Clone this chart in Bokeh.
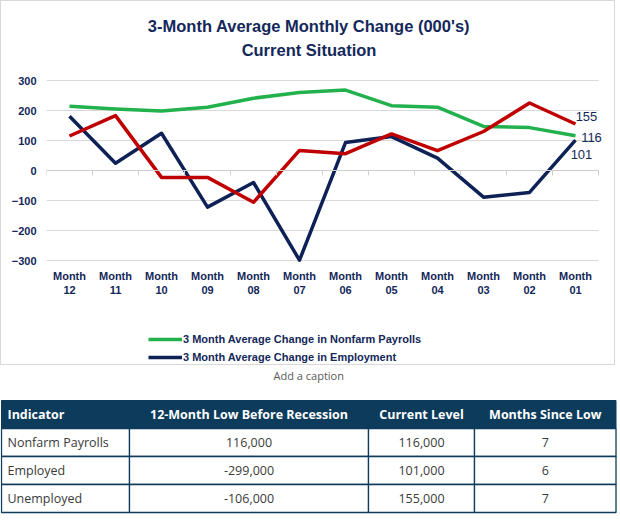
from bokeh.plotting import figure
from bokeh.models import (Range1d, FixedTicker, LinearAxis, Legend, LegendItem, Label,
                          ColumnDataSource, LabelSet)
from bokeh.embed import file_html
from bokeh.resources import INLINE
from bokeh.core.properties import value

# ---------------- data ----------------
months = ["12", "11", "10", "09", "08", "07", "06", "05", "04", "03", "02", "01"]
payrolls = [214, 205, 198, 211, 241, 260, 268, 216, 211, 147, 143, 116]
employment = [181, 24, 124, -122, -40, -299, 93, 113, 41, -89, -73, 101]
unemployed = [115, 183, -23, -23, -106, 67, 56, 122, 66, 130, 225, 155]
y_ticks = [-300, -200, -100, 0, 100, 200, 300]
title_line1 = "3-Month Average Monthly Change (000's)"
title_line2 = "Current Situation"
legend_labels = ["3 Month Average Change in Nonfarm Payrolls",
                 "3 Month Average Change in Employment"]
caption_text = "Add a caption"

table_header = ["Indicator", "12-Month Low Before Recession", "Current Level", "Months Since Low"]
indicators = ["Nonfarm Payrolls", "Employed", "Unemployed"]
low_before = [116000, -299000, -106000]
current_level = [116000, 101000, 155000]
months_since_low = [7, 6, 7]

# ---------------- styles / layout ----------------
NAVY = "#14285a"
GREEN = "#22b14c"
DARKBLUE = "#0d2157"
RED = "#c00000"
GRID = "#d9d9d9"
HEADER = "#0c3b5c"
FONT = "Liberation Sans"
TFONT = "Open Sans"

W, H = 615, 365                # chart box (inside its 1px border)
LEFT, RIGHT = 45, 3            # room for y labels / right margin
PLOT_TOP, PLOT_H = 79, 180     # pixel rows of the 300 .. -300 band
y_min, y_max = min(y_ticks), max(y_ticks)
upp = (y_max - y_min) / PLOT_H                 # data units per pixel
y_hi = y_max + PLOT_TOP * upp
y_lo = y_min - (H - PLOT_TOP - PLOT_H) * upp

n = len(months)
xpos = [i + 0.5 for i in range(n)]             # category centres on a 0..n slot scale
tick_labels = {x: f"Month\n{m}" for x, m in zip(xpos, months)}
slot_px = 46
x_end = (W - LEFT - RIGHT) / slot_px

p = figure(x_range=Range1d(0, x_end), y_range=Range1d(y_lo, y_hi), width=W, height=H,
           output_backend="svg", toolbar_location=None, x_axis_location=None,
           min_border_left=LEFT, min_border_right=RIGHT, min_border_top=0, min_border_bottom=0,
           styles={"border": "1px solid #d9d9d9"})
p.outline_line_color = None
p.background_fill_color = "white"
p.border_fill_color = "white"

def px_to_y(py):
    return y_hi - py * upp

chart_cx = (W / 2 - LEFT) / slot_px

# titles
for txt, py in [(title_line1, 24), (title_line2, 48)]:
    p.add_layout(Label(x=chart_cx, y=px_to_y(py), text=txt, text_align="center",
                       text_baseline="middle", text_font=FONT, text_font_size="16.5px",
                       text_font_style="bold", text_color=NAVY))

# y axis
p.yaxis.ticker = FixedTicker(ticks=y_ticks)
p.yaxis.axis_line_color = None
p.yaxis.major_tick_line_color = None
p.yaxis.major_tick_out = 0
p.yaxis.minor_tick_line_color = None
p.yaxis.major_label_standoff = 10
p.yaxis.major_label_text_font = FONT
p.yaxis.major_label_text_font_size = "11px"
p.yaxis.major_label_text_font_style = "bold"
p.yaxis.major_label_text_color = NAVY
p.xgrid.grid_line_color = None
p.ygrid.grid_line_color = None

# horizontal gridlines across the category slots only
p.segment(x0=[0] * len(y_ticks), x1=[n] * len(y_ticks), y0=y_ticks, y1=y_ticks,
          line_color=GRID, line_width=1)

# category labels under the lowest gridline
cat_axis = LinearAxis(fixed_location=y_min, ticker=FixedTicker(ticks=xpos),
                      major_label_overrides=tick_labels,
                      axis_line_color=None, major_tick_line_color=None, major_tick_out=0,
                      minor_tick_line_color=None, major_label_standoff=9,
                      major_label_text_font=FONT, major_label_text_font_size="11px",
                      major_label_text_font_style="bold", major_label_text_color=NAVY)
p.add_layout(cat_axis, "below")

# zero axis line with tick marks between categories
zero_axis = LinearAxis(fixed_location=0, bounds=(0, n),
                       ticker=FixedTicker(ticks=list(range(n + 1))),
                       axis_line_color="#cfcfcf", major_tick_line_color="#cfcfcf",
                       major_tick_out=5, major_tick_in=0, minor_tick_line_color=None,
                       major_label_text_color=None)
p.add_layout(zero_axis, "below")

src = ColumnDataSource(dict(x=xpos, payrolls=payrolls, employment=employment,
                            unemployed=unemployed))
r_g = p.line("x", "payrolls", source=src, line_color=GREEN, line_width=3.5, line_join="round")
r_n = p.line("x", "employment", source=src, line_color=DARKBLUE, line_width=3.5, line_join="round")
r_r = p.line("x", "unemployed", source=src, line_color=RED, line_width=3.5, line_join="round")

# end labels
end_src = ColumnDataSource(dict(
    x=[xpos[-1]] * 3,
    y=[unemployed[-1], payrolls[-1], employment[-1]],
    text=[str(unemployed[-1]), str(payrolls[-1]), str(employment[-1])],
    dx=[11, 16, 6],
    dy=[8, -2, -14],
))
labels = LabelSet(x="x", y="y", text="text", source=end_src, x_offset="dx", y_offset="dy",
                  text_align="center", text_baseline="middle", text_font=value(FONT),
                  text_font_size="13px", text_color=NAVY)
p.add_layout(labels)

legend = Legend(items=[LegendItem(label=legend_labels[0], renderers=[r_g]),
                       LegendItem(label=legend_labels[1], renderers=[r_n])],
                location=(102, 1), orientation="vertical",
                border_line_color=None, background_fill_alpha=0, padding=0, margin=0,
                spacing=2, glyph_width=34, glyph_height=16, label_height=16,
                label_standoff=1, label_text_font=FONT, label_text_font_size="11px",
                label_text_font_style="bold", label_text_color=NAVY)
p.add_layout(legend)

# ---------------- caption + table ----------------
TW, TH = 618, 149
q = figure(width=TW, height=TH, x_range=Range1d(0, TW), y_range=Range1d(TH, 0),
           output_backend="svg", toolbar_location=None, min_border=0,
           x_axis_location=None, y_axis_location=None)
q.xgrid.visible = False
q.ygrid.visible = False
q.outline_line_color = None

col_edges = [1, 129, 368, 474, 615.5]
table_top = 35
header_h = 28
row_h = 28

q.text(x=[(col_edges[0] + col_edges[-1]) / 2], y=[10], text=[caption_text],
       text_align="center", text_baseline="middle",
       text_font=value(TFONT), text_font_size="11px", text_color="#595959")

ncol = len(table_header)
q.quad(left=col_edges[:-1], right=col_edges[1:], top=[table_top] * ncol,
       bottom=[table_top + header_h] * ncol, fill_color=HEADER, line_color=HEADER)

cells = [indicators, [f"{v:,}" for v in low_before], [f"{v:,}" for v in current_level],
         [str(v) for v in months_since_low]]
nrow = len(indicators)
cl, cr, ct, cb = [], [], [], []
for i in range(nrow):
    for j in range(ncol):
        cl.append(col_edges[j]); cr.append(col_edges[j + 1])
        ct.append(table_top + header_h + i * row_h)
        cb.append(table_top + header_h + (i + 1) * row_h)
q.quad(left=cl, right=cr, top=ct, bottom=cb, fill_color="white", line_color=HEADER,
       line_width=1.3)

def text_x(j):
    return col_edges[j] + 6 if j == 0 else (col_edges[j] + col_edges[j + 1]) / 2

hx = [text_x(j) for j in range(ncol)]
q.text(x=hx[:1], y=[table_top + header_h / 2], text=table_header[:1], text_align="left",
       text_baseline="middle", text_font=value(TFONT), text_font_size="12.5px",
       text_font_style="bold", text_color="white")
q.text(x=hx[1:], y=[table_top + header_h / 2] * (ncol - 1), text=table_header[1:],
       text_align="center", text_baseline="middle", text_font=value(TFONT),
       text_font_size="12.5px", text_font_style="bold", text_color="white")

dx0, dy0, dt0 = [], [], []
dx1, dy1, dt1 = [], [], []
for i in range(nrow):
    yc = table_top + header_h + (i + 0.5) * row_h
    for j in range(ncol):
        if j == 0:
            dx0.append(text_x(j)); dy0.append(yc); dt0.append(cells[j][i])
        else:
            dx1.append(text_x(j)); dy1.append(yc); dt1.append(cells[j][i])
q.text(x=dx0, y=dy0, text=dt0, text_align="left", text_baseline="middle",
       text_font=value(TFONT), text_font_size="12.5px", text_color="#3a3a3a")
q.text(x=dx1, y=dy1, text=dt1, text_align="center", text_baseline="middle",
       text_font=value(TFONT), text_font_size="12.5px", text_color="#3a3a3a")

open("out.html", "w").write(file_html([p, q], INLINE))
